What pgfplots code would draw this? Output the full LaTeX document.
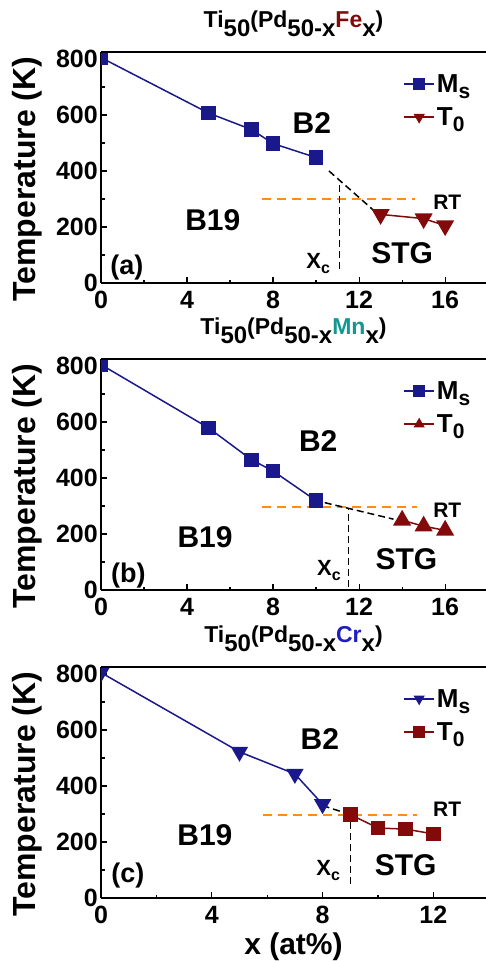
\documentclass[border=0pt]{standalone}
\usepackage{fontspec}
\setmainfont{Liberation Sans}
\usepackage{pgfplots}
\pgfplotsset{compat=1.18}

\definecolor{msblue}{RGB}{25,25,140}
\definecolor{tred}{RGB}{130,10,10}
\definecolor{rtorange}{RGB}{255,140,20}
\definecolor{mnteal}{RGB}{20,150,145}
\definecolor{crblue}{RGB}{30,30,190}

\newcommand{\fs}[1]{\fontsize{#1}{#1}\selectfont}
% title: Ti50(Pd50-x Y x), numbers set low
\newcommand{\ttl}[2]{\bfseries\fs{23}Ti\raisebox{-9pt}{\fs{24}50}(Pd\raisebox{-9pt}{\fs{24}50-x}\textcolor{#1}{#2}\raisebox{-9pt}{\fs{24}x})}
\newcommand{\xc}{\bfseries\fs{22}X\raisebox{-5pt}{\fs{16}c}}

\tikzset{lab/.style={font=\fs{30}\bfseries}}

\pgfplotsset{
  panel/.style={
    anchor=north west,
    width=385pt, height=231pt, scale only axis,
    ymin=0, ymax=825,
    ytick={0,200,...,800}, minor ytick={100,300,500,700},
    axis x line*=bottom, axis y line*=left,
    axis line style={-, line width=1.3pt},
    tick align=inside, major tick length=6pt, minor tick length=3.5pt,
    tick style={black, line width=1.2pt},
    /pgf/number format/assume math mode=true,
    ticklabel style={font=\fs{25}\bfseries, inner sep=0pt},
    yticklabel style={xshift=-3pt},
    xticklabel style={yshift=-8pt},
    ylabel={Temperature (K)},
    ylabel style={font=\fs{32}\bfseries, at={(axis description cs:-0.192,0.45)}, anchor=center},
    title style={at={(axis description cs:0.5,1)}, anchor=base, yshift=19pt, font=\bfseries},
    clip marker paths=true,
    legend style={draw=none, fill=none, at={(rel axis cs:0.785,0.79)}, anchor=west,
      inner sep=0pt, row sep=10pt, font=\fs{26}\bfseries},
    legend cell align=left,
    legend image code/.code={\draw[#1, mark repeat=2, mark phase=2, mark size=5pt]
      plot coordinates {(0pt,0pt) (15pt,0pt) (30pt,0pt)};},
    after end axis/.code={\draw[line width=1.3pt] (rel axis cs:0,1) -- (rel axis cs:1,1);},
  },
  msline/.style={color=msblue, line width=1.5pt, mark options={solid}},
  t0line/.style={color=tred, line width=1.5pt, mark options={solid}},
  bdash/.style={black, line width=1.5pt, dash pattern=on 7pt off 4pt, forget plot},
  rtline/.style={rtorange, line width=2pt, dash pattern=on 9pt off 6pt, forget plot},
}

\begin{document}
\begin{tikzpicture}
\useasboundingbox (0,0) rectangle (486pt,-961pt);

% (a) Fe
\begin{axis}[panel, at={(101pt,-52pt)}, xmin=0, xmax=17.9,
    xtick={0,4,8,12,16}, minor xtick={2,6,10,14},
    title={\ttl{tred}{Fe}}]
\addplot[rtline] coordinates {(7.5,300) (14.6,300)};
\addplot[bdash] coordinates {(10.6,400) (12.7,258)};
\addplot[bdash] coordinates {(11.1,50) (11.1,360)};
\addplot[msline, mark=square*, mark size=6.5pt] coordinates {
    (0,805) (5,607) (7,548) (8,498) (10,448)};
\addlegendentry{M\raisebox{-6pt}{\fs{21}s}}
\addplot[t0line, mark=triangle*, mark size=9pt, mark options={rotate=180}] coordinates {
    (13,245) (15,230) (16,205)};
\addlegendentry{T\raisebox{-6pt}{\fs{21}0}}
\node[lab] at (axis cs:9.8,570) {B2};
\node[lab] at (axis cs:5.2,224) {B19};
\node[lab] at (axis cs:14,105) {STG};
\node at (axis cs:10.1,70) {\xc};
\node[font=\fs{21}\bfseries] at (axis cs:16.1,290) {RT};
\node[font=\fs{27}\bfseries] at (axis cs:1.2,57) {(a)};
\end{axis}

% (b) Mn
\begin{axis}[panel, at={(101pt,-359pt)}, xmin=0, xmax=17.9,
    xtick={0,4,8,12,16}, minor xtick={2,6,10,14},
    title={\ttl{mnteal}{Mn}}]
\addplot[rtline] coordinates {(7.5,298) (14.7,298)};
\addplot[bdash] coordinates {(10.4,312) (13.6,253)};
\addplot[bdash] coordinates {(11.5,10) (11.5,290)};
\addplot[msline, mark=square*, mark size=6.5pt] coordinates {
    (0,805) (5,579) (7,465) (8,425) (10,319)};
\addlegendentry{M\raisebox{-6pt}{\fs{21}s}}
\addplot[t0line, mark=triangle*, mark size=9pt] coordinates {
    (14,249) (15,228) (16,213)};
\addlegendentry{T\raisebox{-6pt}{\fs{21}0}}
\node[lab] at (axis cs:10.1,531) {B2};
\node[lab] at (axis cs:4.84,189) {B19};
\node[lab] at (axis cs:14.2,111) {STG};
\node at (axis cs:10.6,70) {\xc};
\node[font=\fs{21}\bfseries] at (axis cs:16.1,285) {RT};
\node[font=\fs{27}\bfseries] at (axis cs:1.27,51) {(b)};
\end{axis}

% (c) Cr
\begin{axis}[panel, at={(101pt,-667pt)}, xmin=0, xmax=13.9,
    xtick={0,4,8,12}, minor xtick={2,6,10},
    title={\ttl{crblue}{Cr}},
    xlabel={x (at\%)},
    xlabel style={font=\fs{30}\bfseries, at={(axis description cs:0.5,0)}, anchor=base, yshift=-56pt}]
\addplot[rtline] coordinates {(5.85,298) (11.4,298)};
\addplot[bdash] coordinates {(8,330) (9,298)};
\addplot[bdash] coordinates {(9,50) (9,290)};
\addplot[msline, mark=triangle*, mark size=8.5pt, mark options={rotate=180}] coordinates {
    (0,805) (5,522) (7,443) (8,335)};
\addlegendentry{M\raisebox{-6pt}{\fs{21}s}}
\addplot[t0line, mark=square*, mark size=6.5pt] coordinates {
    (9,298) (10,250) (11,246) (12,229)};
\addlegendentry{T\raisebox{-6pt}{\fs{21}0}}
\node[lab] at (axis cs:7.9,567) {B2};
\node[lab] at (axis cs:3.75,226) {B19};
\node[lab] at (axis cs:11.0,118) {STG};
\node at (axis cs:8.2,99) {\xc};
\node[font=\fs{21}\bfseries] at (axis cs:12.5,316) {RT};
\node[font=\fs{27}\bfseries] at (axis cs:0.97,81) {(c)};
\end{axis}
\end{tikzpicture}
\end{document}
